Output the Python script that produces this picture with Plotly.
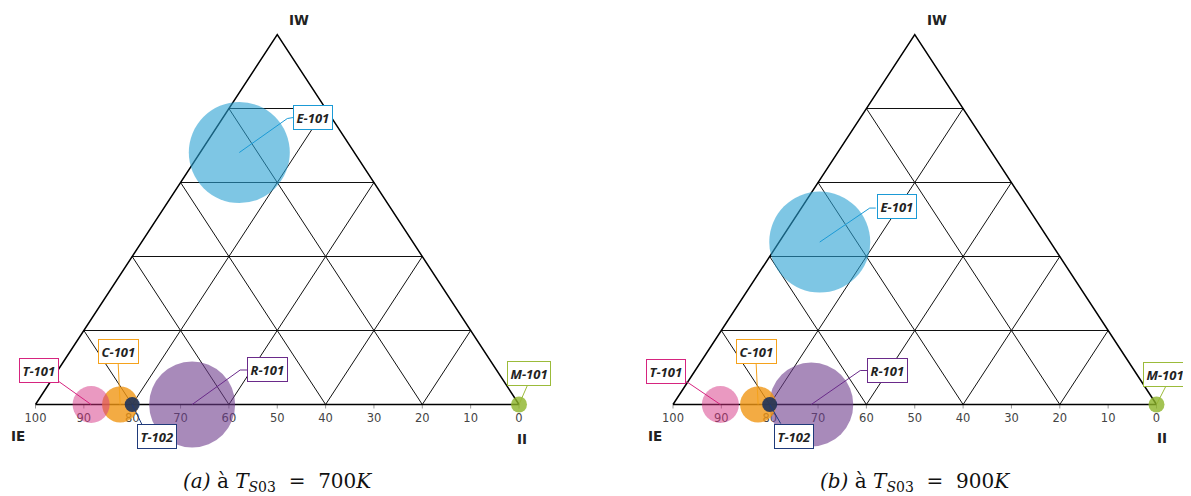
import plotly.graph_objects as go

# ---------------- data ----------------
names = ["R-101", "C-101", "T-101", "T-102", "M-101", "E-101"]

# panel (a) : T_S03 = 700 K   (percent)
ie_a = [67.6, 82.5, 88.5, 80.0, 0.0, 23.8]
iw_a = [0.0, 0.0, 0.0, 0.0, 0.0, 68.1]
ii_a = [32.4, 17.5, 11.5, 20.0, 100.0, 8.1]
size_a = [86, 36, 37, 15, 16, 101]

# panel (b) : T_S03 = 900 K   (percent)
ie_b = [71.4, 82.4, 90.2, 80.0, 0.0, 47.7]
iw_b = [0.0, 0.0, 0.0, 0.0, 0.0, 43.9]
ii_b = [28.6, 17.6, 9.8, 20.0, 100.0, 8.4]
size_b = [84, 36, 37, 15, 16, 101]

grid_levels = [20, 40, 60, 80]
tick_values = [100, 90, 80, 70, 60, 50, 40, 30, 20, 10, 0]
captions = ["<i>(a)</i> à <i>T</i><sub><i>S</i>03</sub>  =  700<i>K</i>",
            "<i>(b)</i> à <i>T</i><sub><i>S</i>03</sub>  =  900<i>K</i>"]

# ---------------- styles ----------------
fill = {
    "R-101": "rgba(110,60,140,0.6)",
    "C-101": "rgba(240,150,20,0.8)",
    "T-101": "rgba(214,51,132,0.5)",
    "T-102": "rgba(30,50,90,0.9)",
    "M-101": "rgba(140,180,40,0.8)",
    "E-101": "rgba(40,160,210,0.6)",
}
edge = {
    "R-101": "#6a2a8a",
    "C-101": "#f5a21c",
    "T-101": "#d6247f",
    "T-102": "#1f3a7a",
    "M-101": "#9bbb3a",
    "E-101": "#1b9ad6",
}
# label box centre offsets and leader-line path offsets (pixels, y down)
label_box = {
    "a": {"T-101": (-52, -34), "C-101": (-2, -53.5), "T-102": (24.5, 31.5),
          "R-101": (75.5, -35), "M-101": (10, -31), "E-101": (74, -35.5)},
    "b": {"T-101": (-54.5, -33), "C-101": (-2, -53.5), "T-102": (24, 31.5),
          "R-101": (76, -34), "M-101": (8, -30.5), "E-101": (77, -35.5)},
}
leader_path = {
    "a": {"T-101": [(-33, -23.5)], "C-101": [(-2, -42.5)], "T-102": [(10, 20.5)],
          "R-101": [(48, -34.5), (55, -34.5)], "M-101": [(9, -20.5)],
          "E-101": [(48, -34), (54, -35)]},
    "b": {"T-101": [(-34, -23)], "C-101": [(-2, -42)], "T-102": [(11, 19)],
          "R-101": [(49, -34), (56, -34)], "M-101": [(10, -19.5)],
          "E-101": [(50, -34), (56, -34)]},
}

W, H = 1183, 488          # page body adds an 8 px margin
OFF = 8
PX_X = 483.5              # pixels per unit along x
PX_Y = 370.0              # pixels per unit along y


def to_xy(ie, iw, ii):
    s = ie + iw + ii
    a, c = iw / s, ii / s
    return c + a / 2.0, a


fig = go.Figure()

panels = [("x", "y", ie_a, iw_a, ii_a, size_a, "a"),
          ("x2", "y2", ie_b, iw_b, ii_b, size_b, "b")]

for xa, ya, ie, iw, ii, sz, key in panels:
    # grid lines
    gx, gy = [], []
    for g in grid_levels:
        f = g / 100.0
        for p in [(1 - f, f, 0), (0, f, 1 - f)]:
            x, y = to_xy(*p); gx.append(x); gy.append(y)
        gx.append(None); gy.append(None)
        for p in [(f, 0, 1 - f), (f, 1 - f, 0)]:
            x, y = to_xy(*p); gx.append(x); gy.append(y)
        gx.append(None); gy.append(None)
        for p in [(1 - f, 0, f), (0, 1 - f, f)]:
            x, y = to_xy(*p); gx.append(x); gy.append(y)
        gx.append(None); gy.append(None)
    fig.add_trace(go.Scatter(x=gx, y=gy, mode="lines", xaxis=xa, yaxis=ya,
                             line=dict(color="#111", width=1), hoverinfo="skip"))
    # ticks
    tx, ty = [], []
    for t in tick_values:
        x, y = to_xy(t, 0, 100 - t)
        tx += [x, x, None]; ty += [y, y - 4 / PX_Y, None]
    fig.add_trace(go.Scatter(x=tx, y=ty, mode="lines", xaxis=xa, yaxis=ya,
                             line=dict(color="#999", width=1), hoverinfo="skip"))
    # outline
    ox, oy = [], []
    for p in [(100, 0, 0), (0, 0, 100), (0, 100, 0), (100, 0, 0)]:
        x, y = to_xy(*p); ox.append(x); oy.append(y)
    fig.add_trace(go.Scatter(x=ox, y=oy, mode="lines", xaxis=xa, yaxis=ya,
                             line=dict(color="#000", width=1.5), hoverinfo="skip"))
    # tick labels
    lx, ly = [], []
    for t in tick_values:
        x, y = to_xy(t, 0, 100 - t)
        lx.append(x); ly.append(y - 15 / PX_Y)
    fig.add_trace(go.Scatter(x=lx, y=ly, mode="text", xaxis=xa, yaxis=ya,
                             text=[str(t) for t in tick_values],
                             textfont=dict(family="DejaVu Sans", size=11.5, color="#444"),
                             hoverinfo="skip"))
    # bubbles
    bx, by = [], []
    for i in range(len(names)):
        x, y = to_xy(ie[i], iw[i], ii[i]); bx.append(x); by.append(y)
    fig.add_trace(go.Scatter(x=bx, y=by, mode="markers", xaxis=xa, yaxis=ya,
                             marker=dict(size=sz, sizemode="diameter", opacity=1,
                                         color=[fill[n] for n in names],
                                         line=dict(width=0)),
                             hoverinfo="skip"))
    # leader lines
    for i, n in enumerate(names):
        px = [bx[i]] + [bx[i] + dx / PX_X for dx, dy in leader_path[key][n]]
        py = [by[i]] + [by[i] - dy / PX_Y for dx, dy in leader_path[key][n]]
        fig.add_trace(go.Scatter(x=px, y=py, mode="lines", xaxis=xa, yaxis=ya,
                                 line=dict(color=edge[n], width=1), hoverinfo="skip"))
    # label boxes
    for i, n in enumerate(names):
        ax, ay = label_box[key][n]
        fig.add_annotation(x=bx[i], y=by[i], xref=xa, yref=ya,
                           text="<b><i>%s</i></b>" % n, showarrow=False,
                           xshift=ax, yshift=-ay, xanchor="center", yanchor="middle",
                           font=dict(family="Open Sans", size=13, color="#222"),
                           bgcolor="white", bordercolor=edge[n], borderwidth=1,
                           borderpad=2.5)
    # vertex labels
    shifts = {"a": [(22, 15), (-18, -31), (3, -34)],
              "b": [(22, 15), (-18, -31), (5, -33)]}[key]
    for (p, lab), (sx, sy) in zip([((0, 100, 0), "IW"), ((100, 0, 0), "IE"),
                                   ((0, 0, 100), "II")], shifts):
        x, y = to_xy(*p)
        fig.add_annotation(x=x, y=y, xref=xa, yref=ya, text="<b>%s</b>" % lab,
                           showarrow=False, xshift=sx, yshift=sy,
                           xanchor="center", yanchor="middle",
                           font=dict(family="DejaVu Sans", size=13.5, color="#222"))

for cx, cap in zip([277 - OFF, 915 - OFF], captions):
    fig.add_annotation(x=cx / W, y=1 - (482 - OFF) / H, xref="paper", yref="paper",
                       text=cap, showarrow=False, xanchor="center", yanchor="middle",
                       font=dict(family="DejaVu Serif", size=20, color="#111"))

yr = [(404.5 - OFF - H) / PX_Y, (404.5 - OFF) / PX_Y]
xl0 = 35.5 - OFF
xr0 = 673 - OFF
fig.update_layout(
    width=W, height=H, margin=dict(l=0, r=0, t=0, b=0),
    paper_bgcolor="white", plot_bgcolor="white", showlegend=False,
    hovermode=False,
    xaxis=dict(domain=[0, 0.5], range=[-xl0 / PX_X, (W / 2 - xl0) / PX_X], visible=False),
    yaxis=dict(domain=[0, 1], range=yr, visible=False),
    xaxis2=dict(domain=[0.5, 1], range=[(W / 2 - xr0) / PX_X, (W - xr0) / PX_X], visible=False),
    yaxis2=dict(domain=[0, 1], range=yr, visible=False, anchor="x2"),
)

fig.write_html("out.html")
